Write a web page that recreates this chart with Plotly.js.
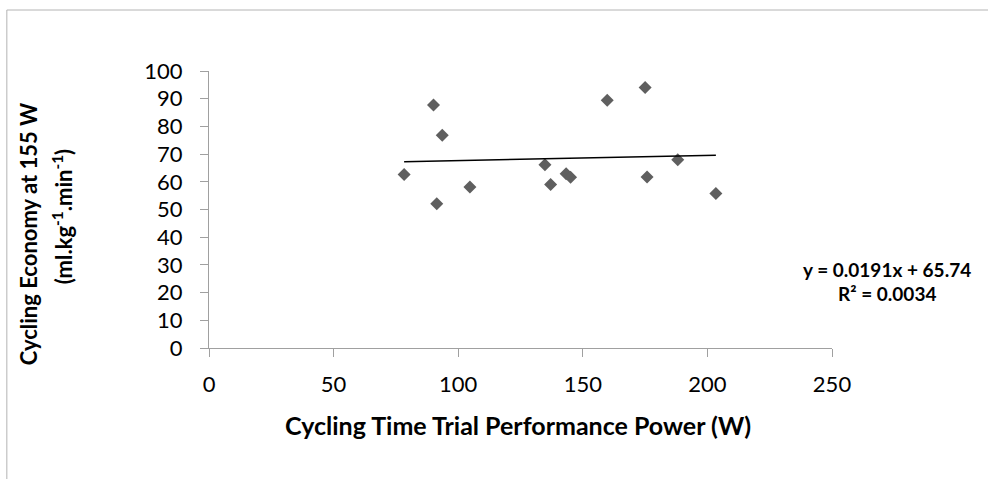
<!DOCTYPE html>
<html>
<head>
<meta charset="utf-8">
<script src="https://cdn.plot.ly/plotly-3.0.1.min.js"></script>
<style>
  html, body { margin: 0; padding: 0; background: #fff; }
  #chart { width: 988px; height: 479px; }
</style>
</head>
<body>
<div id="chart"></div>
<script>
// Time trial power (W) against cycling economy at 155 W
const power   = [78.3, 90.1, 91.4, 93.6, 104.7, 134.8, 137.1, 143.3, 145.1, 159.8, 175.0, 175.8, 188.1, 203.4];
const economy = [62.6, 87.7, 52.1, 76.8, 58.1, 66.2, 59.0, 62.9, 61.6, 89.4, 94.0, 61.7, 68.0, 55.8];

// Linear trendline as reported on the chart
const slope = 0.0191;
const intercept = 65.74;
const rSquared = 0.0034;

const xTicks = [0, 50, 100, 150, 200, 250];
const yTicks = [0, 10, 20, 30, 40, 50, 60, 70, 80, 90, 100];

const xMin = Math.min(...power);
const xMax = Math.max(...power);
const trendX = [xMin, xMax];
const trendY = trendX.map(v => slope * v + intercept);

const FONT = 'Lato, "Open Sans", sans-serif';
const AXIS_GREY = '#a0a0a0';

const data = [
  {
    type: 'scatter', mode: 'markers',
    x: power, y: economy,
    marker: { symbol: 'diamond', size: 10, color: '#5f5f5f' },
    hoverinfo: 'x+y', showlegend: false
  },
  {
    type: 'scatter', mode: 'lines',
    x: trendX, y: trendY,
    line: { color: '#000000', width: 1.5 },
    hoverinfo: 'skip', showlegend: false
  }
];

function axisStyle(range, ticks, standoff) {
  return {
    range: range, tickvals: ticks, ticktext: ticks.map(String),
    showgrid: false, zeroline: false,
    showline: true, linecolor: AXIS_GREY, linewidth: 1,
    ticks: 'outside', ticklen: 8, tickcolor: AXIS_GREY, tickwidth: 1,
    ticklabelstandoff: standoff,
    tickfont: { family: FONT, size: 22, color: '#000000' },
    fixedrange: true
  };
}

const layout = {
  width: 988, height: 479,
  margin: { l: 209.3, r: 156.2, t: 71.3, b: 130.7 },
  paper_bgcolor: '#ffffff', plot_bgcolor: '#ffffff',
  font: { family: FONT, color: '#000000' },
  showlegend: false,
  xaxis: axisStyle([0, 250], xTicks, 9),
  yaxis: axisStyle([0, 100], yTicks, 13),
  shapes: [
    {
      // chart-area frame
      type: 'rect', xref: 'paper', yref: 'paper',
      x0: -0.3245, x1: 2, y0: -1, y1: 1.2202,
      line: { color: '#b4b4b4', width: 1 }, fillcolor: 'rgba(0,0,0,0)', layer: 'below'
    }
  ],
  annotations: [
    {
      xref: 'paper', yref: 'paper', x: 0.4967, y: -0.2769,
      xanchor: 'center', yanchor: 'middle', showarrow: false,
      text: '<b>Cycling Time Trial Performance Power (W)</b>',
      font: { family: FONT, size: 25, color: '#000000' }
    },
    {
      xref: 'paper', yref: 'paper', x: -0.2896, y: 0.409,
      xanchor: 'center', yanchor: 'middle', showarrow: false, textangle: -90,
      text: '<b>Cycling Economy at 155 W</b>',
      font: { family: FONT, size: 22, color: '#000000' }
    },
    {
      xref: 'paper', yref: 'paper', x: -0.2349, y: 0.474,
      xanchor: 'center', yanchor: 'middle', showarrow: false, textangle: -90,
      text: '<b>(ml.kg<sup>-1</sup>.min<sup>-1</sup>)</b>',
      font: { family: FONT, size: 22, color: '#000000' }
    },
    {
      xref: 'paper', yref: 'paper', x: 1.0887, y: 0.2827,
      xanchor: 'center', yanchor: 'middle', showarrow: false,
      text: '<b>y = ' + slope.toFixed(4) + 'x + ' + intercept.toFixed(2) + '</b>',
      font: { family: FONT, size: 19, color: '#000000' }
    },
    {
      xref: 'paper', yref: 'paper', x: 1.0887, y: 0.1978,
      xanchor: 'center', yanchor: 'middle', showarrow: false,
      text: '<b>R² = ' + rSquared.toFixed(4) + '</b>',
      font: { family: FONT, size: 19, color: '#000000' }
    }
  ]
};

Plotly.newPlot('chart', data, layout, { staticPlot: true, displayModeBar: false });
</script>
</body>
</html>
